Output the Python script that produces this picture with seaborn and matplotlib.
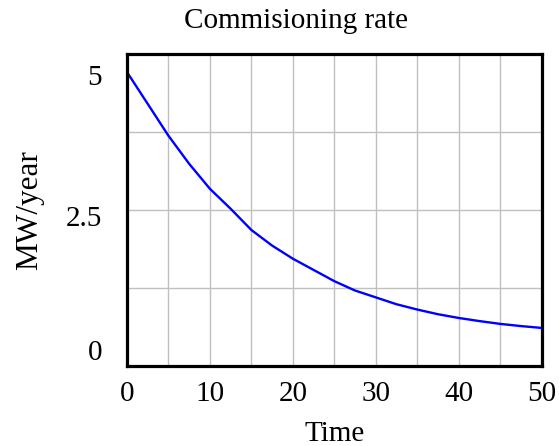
import matplotlib
matplotlib.use('Agg')
import matplotlib.pyplot as plt
import matplotlib.transforms as mtransforms
import seaborn as sns
import pandas as pd

# values (Vensim style run)
time = [0, 2.5, 5, 7.5, 10, 12.5, 15, 17.5, 20, 22.5, 25,
        27.5, 30, 32.5, 35, 37.5, 40, 42.5, 45, 47.5, 50]
rate = [4.71, 4.20, 3.69, 3.24, 2.84, 2.52, 2.18, 1.93, 1.72, 1.54, 1.36,
        1.21, 1.10, 0.99, 0.905, 0.83, 0.77, 0.72, 0.675, 0.64, 0.61]

x_ticks = [0, 5, 10, 15, 20, 25, 30, 35, 40, 45, 50]
x_labels = ['0', '', '10', '', '20', '', '30', '', '40', '', '50']
y_ticks = [0, 1.25, 2.5, 3.75, 5]
y_labels = ['0', '', '2.5', '', '5']

df = pd.DataFrame({'Time': time, 'rate': rate})

sns.set_style("white")
plt.rcParams['font.family'] = ['Liberation Serif', 'DejaVu Serif']
plt.rcParams['text.color'] = 'black'
plt.rcParams['axes.labelcolor'] = 'black'

fig = plt.figure(figsize=(5.59, 4.46), dpi=100)
ax = fig.add_axes([0.2272, 0.1794, 0.7415, 0.6995])

sns.lineplot(data=df, x='Time', y='rate', ax=ax, color='#0000ff', linewidth=1.7)

ax.set_xlim(0, 50)
ax.set_ylim(0, 5)
ax.set_xticks(x_ticks)
ax.set_xticklabels(x_labels)
ax.set_yticks(y_ticks)
ax.set_yticklabels(y_labels)
ax.grid(True, color='#c0c0c0', linewidth=1.0)
ax.tick_params(axis='both', length=0, labelsize=21, colors='black')
ax.tick_params(axis='y', pad=18)
ax.tick_params(axis='x', pad=11)

for s in ax.spines.values():
    s.set_color('black')
    s.set_linewidth(2.3)

# vensim puts the end labels inside the axis range
shifts = {'5': -0.21, '2.5': -0.065, '0': 0.16}
for lab in ax.get_yticklabels():
    dy = shifts.get(lab.get_text(), 0)
    lab.set_transform(lab.get_transform() + mtransforms.ScaledTranslation(0, dy, fig.dpi_scale_trans))

ax.set_xlabel('Time', fontsize=21, labelpad=10)
ax.set_ylabel('MW/year', fontsize=22.5)
ax.yaxis.set_label_coords(-0.2, 0.5)

fig.text(0.530, 1 - 28 / 446, 'Commisioning rate', ha='center', va='baseline', fontsize=21)

fig.savefig('out.png', dpi=100)
